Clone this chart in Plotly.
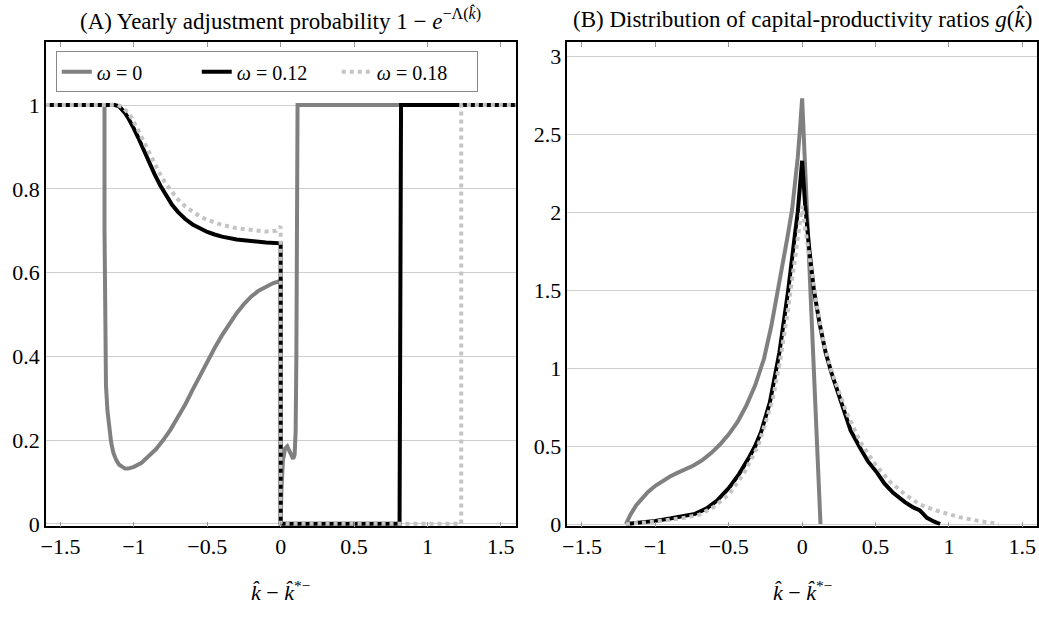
import plotly.graph_objects as go

# ---------------- Data ----------------
# Panel A: yearly adjustment probability 1 - exp(-Lambda(k))
A_x_w0 = [-1.6, -1.2, -1.2, -1.198, -1.195, -1.19, -1.18, -1.17, -1.155, -1.14, -1.12, -1.1, -1.08,
          -1.06, -1.04, -1.0, -0.95, -0.9, -0.85, -0.8, -0.75, -0.7, -0.65, -0.6, -0.55, -0.5, -0.45,
          -0.4, -0.35, -0.3, -0.25, -0.2, -0.15, -0.1, -0.05, 0.0, 0.0, 0.005, 0.015, 0.03, 0.045,
          0.06, 0.075, 0.085, 0.095, 0.102, 0.107, 0.111, 0.115, 1.6]
A_y_w0 = [1, 1, 0.7, 0.5, 0.4, 0.33, 0.27, 0.23, 0.195, 0.17, 0.152, 0.141, 0.135,
          0.132, 0.132, 0.136, 0.145, 0.16, 0.178, 0.2, 0.225, 0.255, 0.285, 0.32, 0.355, 0.39, 0.42,
          0.45, 0.478, 0.503, 0.525, 0.543, 0.557, 0.567, 0.575, 0.58, 0, 0.08, 0.15, 0.18, 0.185,
          0.172, 0.158, 0.155, 0.165, 0.22, 0.4, 0.7, 1, 1]

A_x_w12 = [-1.6, -1.13, -1.1, -1.08, -1.06, -1.04, -1.02, -1.0, -0.97, -0.94, -0.9, -0.86, -0.82,
           -0.78, -0.74, -0.7, -0.65, -0.6, -0.55, -0.5, -0.45, -0.4, -0.3, -0.2, -0.1, 0.0, 0.0,
           0.81, 0.812, 0.815, 0.82, 1.6]
A_y_w12 = [1, 1, 0.997, 0.99, 0.981, 0.97, 0.958, 0.944, 0.922, 0.898, 0.867, 0.836, 0.808,
           0.783, 0.762, 0.745, 0.728, 0.715, 0.705, 0.697, 0.691, 0.686, 0.679, 0.675, 0.672, 0.67, 0,
           0, 0.3, 0.8, 1, 1]

A_x_w18 = [-1.6, -1.11, -1.08, -1.06, -1.04, -1.02, -1.0, -0.97, -0.94, -0.9, -0.86, -0.82, -0.78,
           -0.74, -0.7, -0.65, -0.6, -0.55, -0.5, -0.45, -0.4, -0.3, -0.2, -0.1, -0.03, 0.0, 0.0,
           1.23, 1.23, 1.6]
A_y_w18 = [1, 1, 0.996, 0.99, 0.982, 0.972, 0.96, 0.94, 0.918, 0.889, 0.86, 0.834, 0.811,
           0.791, 0.775, 0.758, 0.745, 0.734, 0.726, 0.72, 0.714, 0.706, 0.701, 0.698, 0.70, 0.71, 0,
           0, 1, 1]

# Panel B: distribution of capital-productivity ratios g(k)
B_x_w0 = [-1.2, -1.17, -1.13, -1.1, -1.05, -1.0, -0.95, -0.9, -0.85, -0.8, -0.74, -0.68, -0.62,
          -0.56, -0.5, -0.44, -0.38, -0.32, -0.26, -0.21, -0.17, -0.13, -0.1, -0.068, -0.045,
          -0.03, -0.015, 0.0, 0.125]
B_y_w0 = [0, 0.06, 0.12, 0.155, 0.205, 0.245, 0.278, 0.305, 0.328, 0.35, 0.375, 0.41, 0.455,
          0.51, 0.575, 0.655, 0.76, 0.89, 1.06, 1.27, 1.47, 1.68, 1.84, 2.02, 2.2,
          2.35, 2.53, 2.73, 0]

B_x_w12 = [-1.2, -1.1, -1.0, -0.9, -0.8, -0.73, -0.65, -0.58, -0.5, -0.43, -0.36, -0.32, -0.28,
           -0.22, -0.155, -0.095, -0.05, -0.03, 0.0, 0.02, 0.05, 0.08, 0.12, 0.16, 0.2, 0.25, 0.3,
           0.33, 0.4, 0.45, 0.51, 0.56, 0.62, 0.7, 0.76, 0.8, 0.82, 0.85, 0.9, 0.94]
B_y_w12 = [0, 0.008, 0.02, 0.035, 0.05, 0.065, 0.1, 0.15, 0.23, 0.32, 0.43, 0.5, 0.59,
           0.78, 1.1, 1.5, 1.85, 2.0, 2.33, 2.05, 1.75, 1.5, 1.28, 1.1, 0.97, 0.82, 0.68,
           0.6, 0.48, 0.4, 0.33, 0.26, 0.2, 0.14, 0.105, 0.088, 0.07, 0.04, 0.015, 0]

B_x_w18 = [-1.2, -1.0, -0.8, -0.7, -0.6, -0.5, -0.4, -0.3, -0.2, -0.15, -0.1, -0.05, -0.02, 0.0,
           0.02, 0.05, 0.1, 0.15, 0.2, 0.3, 0.4, 0.5, 0.6, 0.7, 0.8, 0.9, 1.0, 1.07, 1.2, 1.34]
B_y_w18 = [0, 0.015, 0.04, 0.06, 0.11, 0.19, 0.32, 0.5, 0.8, 1.05, 1.35, 1.7, 1.9, 2.04,
           1.9, 1.7, 1.4, 1.15, 0.98, 0.72, 0.52, 0.38, 0.27, 0.19, 0.126, 0.09, 0.06, 0.044, 0.02, 0]

series_names = ["<i>ω</i> = 0", "<i>ω</i> = 0.12", "<i>ω</i> = 0.18"]
x_ticks = [-1.5, -1, -0.5, 0, 0.5, 1, 1.5]
A_y_ticks = [0, 0.2, 0.4, 0.6, 0.8, 1]
B_y_ticks = [0, 0.5, 1, 1.5, 2, 2.5, 3]

# ---------------- Styles / layout ----------------
FONT = "Liberation Serif, DejaVu Serif, serif"
styles = [
    dict(color="#808080", width=4, dash="solid"),
    dict(color="#000000", width=4, dash="solid"),
    dict(color="#c4c4c4", width=4, dash="dot"),
]

W, H = 1039, 618


def px_x(x):
    return x / W


def px_y(y):
    return 1 - y / H


fig = go.Figure()
A_data = [(A_x_w0, A_y_w0), (A_x_w12, A_y_w12), (A_x_w18, A_y_w18)]
B_data = [(B_x_w0, B_y_w0), (B_x_w12, B_y_w12), (B_x_w18, B_y_w18)]
for i, (xs, ys) in enumerate(A_data):
    fig.add_trace(go.Scatter(x=xs, y=ys, mode="lines", line=styles[i], name=series_names[i],
                             xaxis="x", yaxis="y", showlegend=True))
for i, (xs, ys) in enumerate(B_data):
    fig.add_trace(go.Scatter(x=xs, y=ys, mode="lines", line=styles[i], name=series_names[i],
                             xaxis="x2", yaxis="y2", showlegend=False))

ydom = [px_y(535), px_y(43)]
xdomA = [px_x(41), px_x(513)]
xdomB = [px_x(565), px_x(1037)]

TICKFONT = dict(family=FONT, size=22, color="black")
xcommon = dict(range=[-1.6, 1.6], tickvals=x_ticks, ticks="inside", ticklen=5, tickcolor="#999",
               showline=True, linecolor="black", linewidth=1.5, mirror="allticks",
               showgrid=False, zeroline=False, tickfont=TICKFONT)
ycommon = dict(ticks="", showline=True, linecolor="black", linewidth=1.5, mirror=True,
               showgrid=True, gridcolor="#cfcfcf", gridwidth=1, zeroline=False,
               tickfont=TICKFONT)

fig.update_layout(
    width=W, height=H,
    margin=dict(l=0, r=0, t=0, b=0),
    paper_bgcolor="white", plot_bgcolor="white",
    font=dict(family=FONT, size=22, color="black"),
    xaxis=dict(domain=xdomA, anchor="y", **xcommon),
    yaxis=dict(domain=ydom, anchor="x", range=[-0.006, 1.15], tickvals=A_y_ticks, **ycommon),
    xaxis2=dict(domain=xdomB, anchor="y2", **xcommon),
    yaxis2=dict(domain=ydom, anchor="x2", range=[-0.015, 3.09], tickvals=B_y_ticks, **ycommon),
    legend=dict(orientation="h", x=px_x(51), y=px_y(73), xanchor="left", yanchor="middle",
                bordercolor="#888", borderwidth=1, bgcolor="white",
                font=dict(family=FONT, size=20), itemwidth=30, tracegroupgap=0,
                entrywidth=95, entrywidthmode="pixels"),
    showlegend=True,
    annotations=[
        dict(text="(A) Yearly adjustment probability 1 − <i>e</i><sup>−Λ(<i>k̂</i>)</sup>",
             x=(xdomA[0] + xdomA[1]) / 2, y=px_y(19), xref="paper", yref="paper",
             showarrow=False, font=dict(family=FONT, size=23), xanchor="center", yanchor="middle"),
        dict(text="(B) Distribution of capital-productivity ratios <i>g</i>(<i>k̂</i>)",
             x=(xdomB[0] + xdomB[1]) / 2, y=px_y(19), xref="paper", yref="paper",
             showarrow=False, font=dict(family=FONT, size=23), xanchor="center", yanchor="middle"),
        dict(text="<i>k̂</i> − <i>k̂</i><sup>*−</sup>",
             x=(xdomA[0] + xdomA[1]) / 2, y=px_y(601), xref="paper", yref="paper",
             showarrow=False, font=dict(family=FONT, size=22), xanchor="center", yanchor="middle"),
        dict(text="<i>k̂</i> − <i>k̂</i><sup>*−</sup>",
             x=(xdomB[0] + xdomB[1]) / 2, y=px_y(601), xref="paper", yref="paper",
             showarrow=False, font=dict(family=FONT, size=22), xanchor="center", yanchor="middle"),
    ],
)

fig.write_html("out.html",
               config={"displayModeBar": False},
               post_script="document.body.style.margin='0';document.body.style.overflow='hidden';")
